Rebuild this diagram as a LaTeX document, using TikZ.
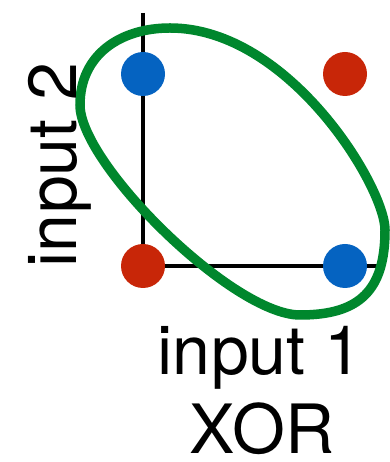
\documentclass[tikz,border=0pt]{standalone}
\usepackage{fontspec}
\setmainfont{TeX Gyre Heros}
\usetikzlibrary{positioning}
\definecolor{xorblue}{RGB}{5,99,193}
\definecolor{xorred}{RGB}{200,38,8}
\definecolor{xorgreen}{RGB}{0,135,45}

\begin{document}
\begin{tikzpicture}[x=1pt,y=1pt,
  dot/.style={circle,inner sep=0pt,minimum size=44pt},
  lbl/.style={font=\fontsize{68}{70}\selectfont,inner sep=0pt}]
  \useasboundingbox (0,0) rectangle (389,462);
  % Axes
  \coordinate (origin) at (143,196);
  \coordinate (xend) at (381,196);
  \coordinate (yend) at (143,449);
  \draw[line width=4.5pt] (yend) -- (origin) -- (xend);
  % Data points
  \node[dot,fill=xorred] (p00) at (origin) {};
  \node[dot,fill=xorblue] (p10) at (345,196) {};
  \node[dot,fill=xorblue] (p01) at (143,388) {};
  \node[dot,fill=xorred] (p11) at (345,388) {};
  % Loop round the blue points
  \draw[xorgreen,line width=9.5pt]
    (170,434) .. controls (289,434) and (385,275) .. (385,232)
              .. controls (385,172) and (360,147) .. (300,147)
              .. controls (233,147) and (80,298) .. (80,357)
              .. controls (80,407) and (120,434) .. cycle;
  % Labels
  \node[lbl,anchor=base,rotate=90] (ylbl) at (76,297) {input 2};
  \node[lbl,anchor=base] (xlbl) at (260,87) {input 1};
  \node[lbl,anchor=base] (title) at (262,9) {XOR};
\end{tikzpicture}
\end{document}
